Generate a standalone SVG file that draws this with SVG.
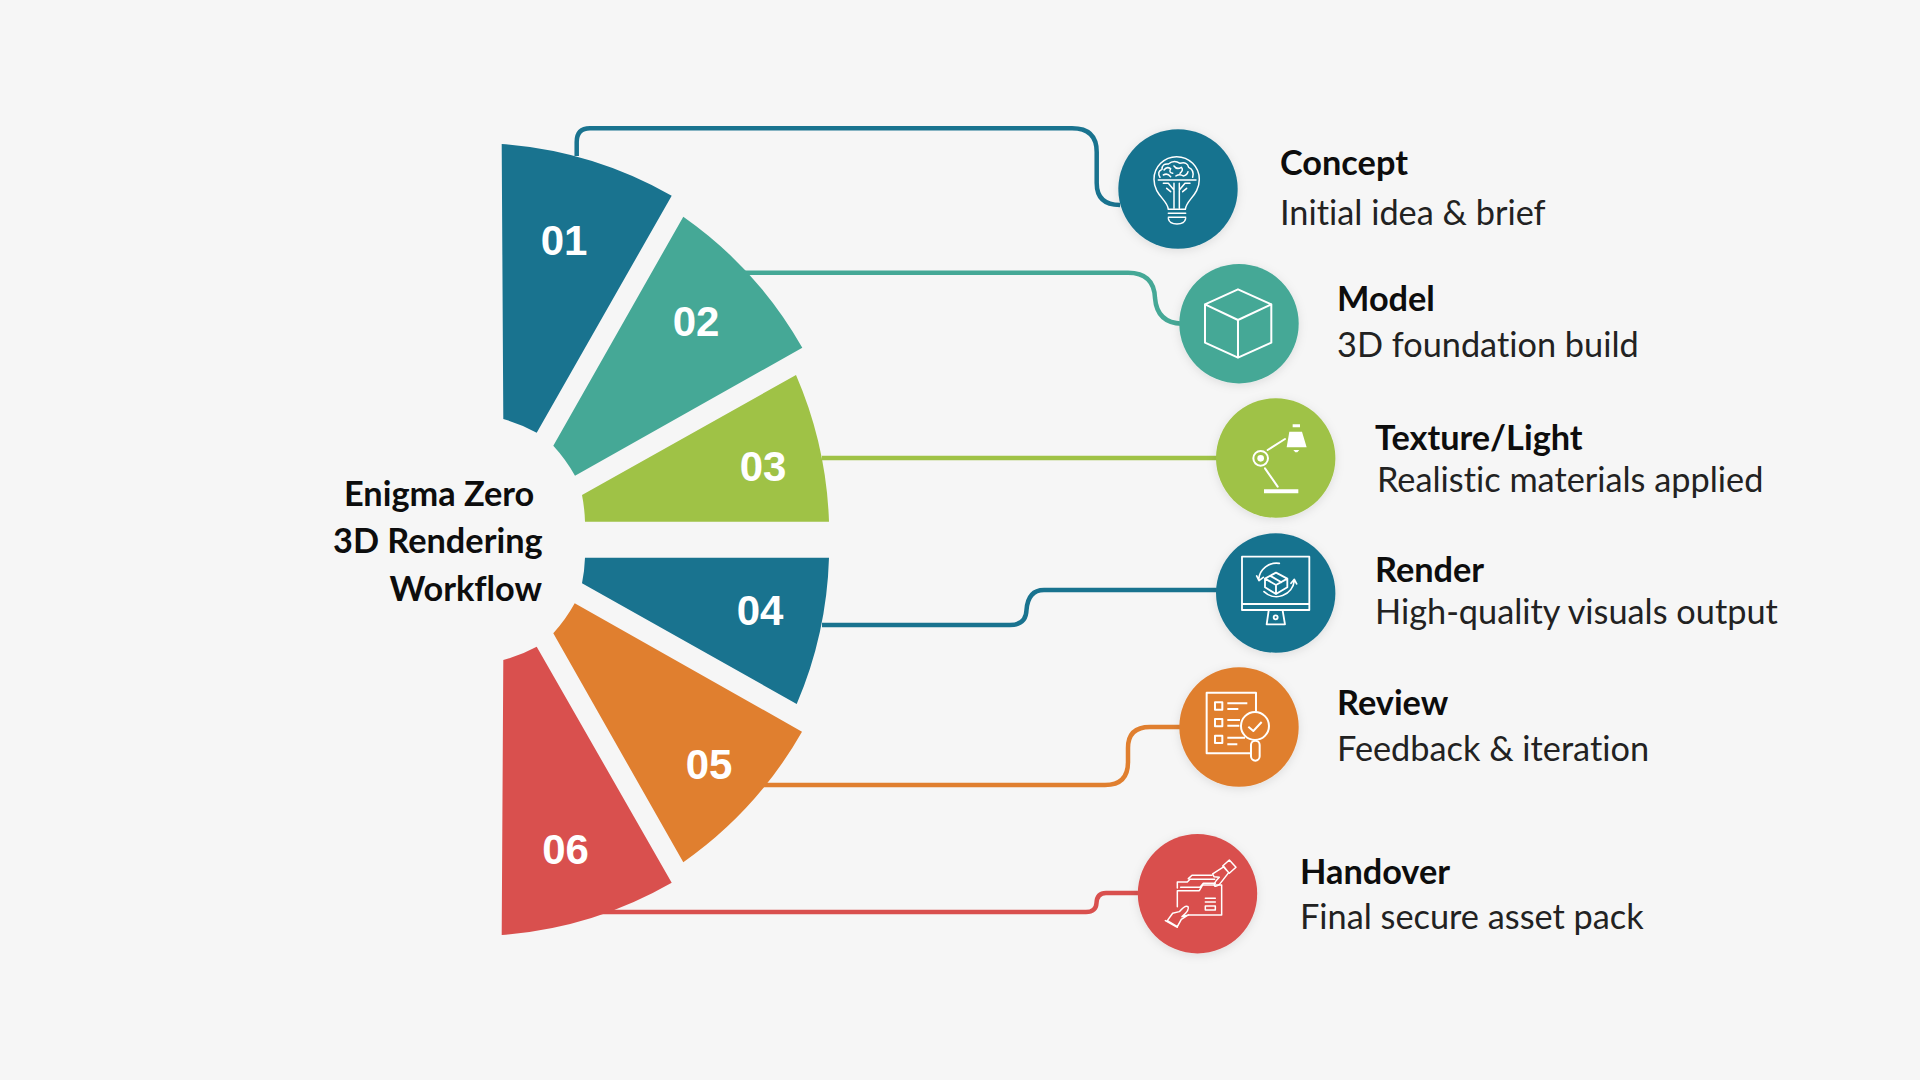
<svg xmlns="http://www.w3.org/2000/svg" width="1920" height="1080" viewBox="0 0 1920 1080">
<style>
.num{font-family:"Liberation Sans",Arial,sans-serif;font-weight:700;font-size:42px;fill:#fff;text-anchor:middle}
.t,.s{font-family:Lato,"Noto Sans",sans-serif;font-size:34.3px;font-variant-ligatures:none}
.t{font-weight:700;fill:#0d0d0d}
.s{font-weight:400;fill:#222}
.c{fill:none;stroke-width:4.5}
.i{fill:none;stroke:#fff;stroke-width:5;stroke-linejoin:round;stroke-linecap:round}
.f{fill:#fff;stroke:none}
.d{filter:url(#sh)}
</style>
<defs><filter id="sh" x="-20%" y="-20%" width="140%" height="140%"><feDropShadow dx="0" dy="2" stdDeviation="5" flood-color="#000" flood-opacity=".1"/></filter></defs>
<rect width="1920" height="1080" fill="#f6f6f6"/>
<g id="connectors">
<path class="c" stroke="#19738f" d="M576.7 156V142Q576.7 128.3 590 128.3H1072Q1096.7 128.3 1096.7 152V183Q1096.7 205 1120 205"/>
<path class="c" stroke="#45a896" d="M745 272.7H1128Q1154 272.7 1155 298Q1157 323 1182 323.7"/>
<path class="c" stroke="#9fc246" d="M822 458H1218"/>
<path class="c" stroke="#19738f" d="M822 625H1010Q1026 625 1026.5 610Q1028 590 1044 590H1218"/>
<path class="c" stroke="#e07f2f" d="M762 785H1105Q1128 785 1128 762V748Q1128 727 1150 727H1182"/>
<path class="c" stroke="#d9504e" d="M600 912H1086Q1096 912 1096.5 903Q1097 893 1106 893H1140"/>
</g>
<g id="step-01"><path fill="#19738f" d="M501.7 144A403 403 0 0 1 671.7 195.7L536.7 432.7A150 150 0 0 0 503.3 419Z"/><text class="num" x="564" y="254.5">01</text></g>
<g id="step-02"><path fill="#45a896" d="M683.3 216.7A403 403 0 0 1 802.3 347.7L575 475.7A160 160 0 0 0 553.3 445.7Z"/><text class="num" x="696" y="336">02</text></g>
<g id="step-03"><path fill="#9fc246" d="M796 375A403 403 0 0 1 829 521.7H585A160 160 0 0 0 582 495Z"/><text class="num" x="763" y="481">03</text></g>
<g id="step-04"><path fill="#19738f" d="M829 557.7A403 403 0 0 1 796.7 704L582 583.3A160 160 0 0 0 585 557.7Z"/><text class="num" x="760" y="625">04</text></g>
<g id="step-05"><path fill="#e07f2f" d="M802 731.7A403 403 0 0 1 683.3 862.3L553.3 633.3A160 160 0 0 0 574.7 603.3Z"/><text class="num" x="709" y="779">05</text></g>
<g id="step-06"><path fill="#d9504e" d="M671.7 882.7A403 403 0 0 1 501.7 935L503.3 660A150 150 0 0 0 536.7 646.7Z"/><text class="num" x="565.5" y="864">06</text></g>
<g id="title">
<text class="t" x="344" y="506">Enigma Zero</text>
<text class="t" x="333" y="553">3D Rendering</text>
<text class="t" x="389.5" y="600.5">Workflow</text>
</g>
<g id="node-concept">
<circle class="d" cx="1178" cy="189" r="59.7" fill="#19738f"/>
<g class="i" transform="translate(1100 120) scale(.3333)" style="stroke-width:4.5">
<path d="M205 268C203 240 162 225 162 178A68 68 0 1 1 298 178C298 225 258 240 256 268Z"/>
<path d="M205 280H257M205 292H257M205 296Q208 312 231 312Q254 312 257 296"/>
<path d="M180 172Q170 155 186 148Q186 130 205 132Q222 118 240 130Q262 124 266 142Q284 150 278 172M192 150Q200 138 212 146Q205 158 218 160M222 138Q230 150 244 142Q252 150 240 160M190 165Q202 158 212 170M228 168Q240 160 250 168Q262 165 264 155"/>
<path d="M175 180H288M222 190V265M238 190V265M222 210L205 190H190M238 210L255 190H270M212 215L200 205M248 215L260 205"/>
</g>
<text class="t" x="1280" y="174.5">Concept</text><text class="s" x="1280" y="225">Initial idea &amp; brief</text>
</g>
<g id="node-model">
<circle class="d" cx="1239" cy="323.7" r="59.7" fill="#45a896"/>
<g class="i" transform="translate(1100 120) scale(.3333)" style="stroke-width:6">
<path d="M414 508L514 553V668L414 713L315 668V553ZM315 553L414 600L514 553M414 600V713"/>
</g>
<text class="t" x="1337" y="311">Model</text><text class="s" x="1337" y="357">3D foundation build</text>
</g>
<g id="node-texture">
<circle class="d" cx="1275.7" cy="458" r="59.7" fill="#9fc246"/>
<g class="i" transform="translate(1200 390) scale(.3333)" style="stroke-width:6">
<path class="f" d="M268 125H306L320 172H260ZM278 103H300V112H278ZM280 180H298L292 187H286ZM192 298H295V310H192Z"/>
<circle cx="182" cy="205" r="22"/><circle class="f" cx="182" cy="205" r="10"/>
<path d="M203 180L255 147M195 235L233 290"/>
</g>
<text class="t" x="1375" y="449.5">Texture/Light</text><text class="s" x="1377" y="491.5">Realistic materials applied</text>
</g>
<g id="node-render">
<circle class="d" cx="1275.7" cy="593" r="59.7" fill="#19738f"/>
<g class="i" transform="translate(1200 390) scale(.3333)" style="stroke-width:5.5">
<path d="M126 500H328V660H126ZM126 642H328M206 662L200 703H255L248 662"/><circle cx="227" cy="682" r="6"/>
<path d="M228 548L262 566V592L228 612L195 592V566ZM195 566L228 585L262 566M228 585V612M210 557L244 577"/>
<path d="M176 568A54 54 0 0 1 238 520M192 605A54 54 0 0 0 283 572M170 558L177 572L190 562M273 580L283 568L290 582" style="stroke-width:5"/>
</g>
<text class="t" x="1375" y="582">Render</text><text class="s" x="1375" y="624">High-quality visuals output</text>
</g>
<g id="node-review">
<circle class="d" cx="1239" cy="727" r="59.7" fill="#e07f2f"/>
<g class="i" transform="translate(1120 650) scale(.3333)" style="stroke-width:6;stroke-linecap:butt">
<path d="M390 310H260V128H408V185"/>
<path d="M285 157h22v22h-22zM285 207h22v22h-22zM285 257h22v22h-22z"/>
<path d="M322 160H382M322 177H355M322 210H360M322 227H358M322 263H375M322 283H352"/>
<circle cx="405" cy="228" r="42"/><path d="M385 230L400 243L425 216"/><rect x="393" y="272" width="26" height="60" rx="13"/>
</g>
<text class="t" x="1337" y="714.5">Review</text><text class="s" x="1337" y="761">Feedback &amp; iteration</text>
</g>
<g id="node-handover">
<circle class="d" cx="1197.5" cy="893.7" r="59.7" fill="#d9504e"/>
<g class="i" transform="translate(1120 650) scale(.3333)" style="stroke-width:4.5">
<path d="M172 770V722H238L248 705H305V795H205M172 714V696H202L210 688H284M182 712H240L250 700H286M205 686L216 676H276"/>
<path d="M256 745H286M256 768H286V780H256ZM256 756H286"/>
<path d="M278 672L312 650L326 668L305 695Q292 712 284 708Q278 702 298 682L282 680ZM308 648L328 630L348 652L328 670Z"/>
<path d="M205 795L186 800Q210 780 204 770Q196 764 178 785L158 790L142 812L172 830L184 808L205 795M136 812L172 832"/>
</g>
<text class="t" x="1300" y="884">Handover</text><text class="s" x="1300" y="928.5">Final secure asset pack</text>
</g>
</svg>
